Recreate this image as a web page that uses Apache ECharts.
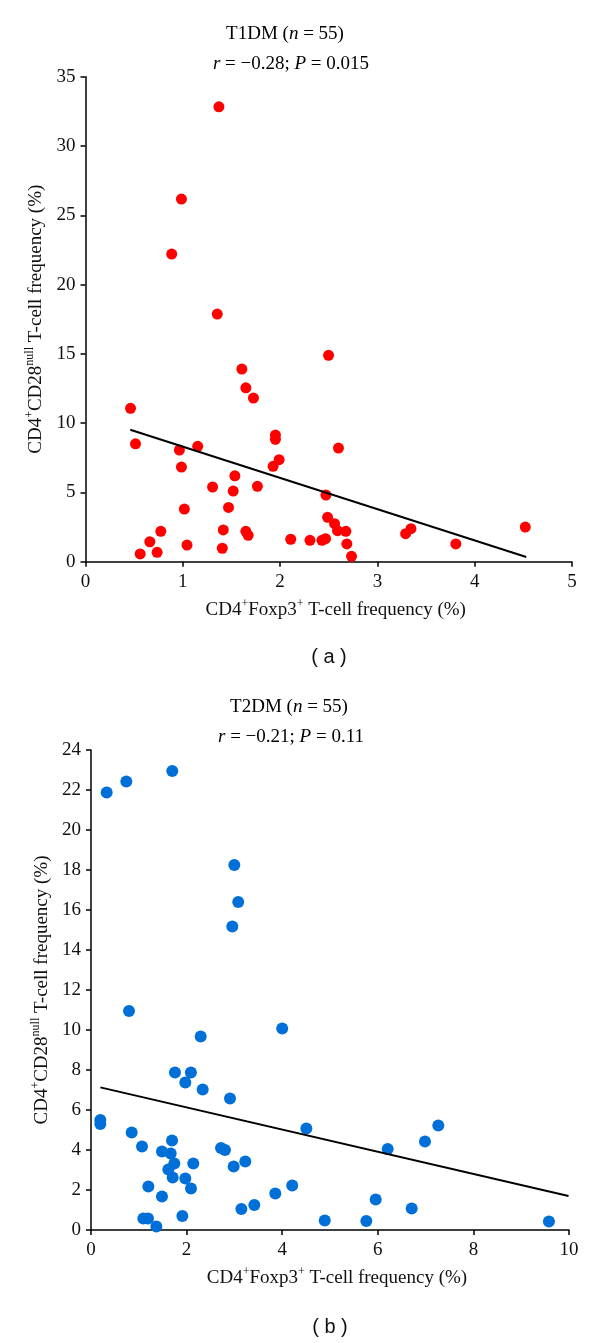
<!DOCTYPE html>
<html>
<head>
<meta charset="utf-8">
<script src="https://cdn.jsdelivr.net/npm/echarts@6/dist/echarts.min.js"></script>
<style>
html,body{margin:0;padding:0;background:#fff;}
#c{width:600px;height:1343px;}
</style>
</head>
<body>
<div id="c"></div>
<script>
// ---- Panel (a): T1DM ----
const t1dmX = [1.371,0.986,0.886,1.354,2.498,1.607,1.648,1.726,0.463,1.952,1.952,0.514,1.153,0.965,2.60,1.99,1.928,0.986,1.535,1.306,1.767,1.518,2.471,1.470,1.016,2.488,2.56,2.59,2.676,2.686,2.734,2.307,2.43,2.467,3.29,3.345,3.806,4.52,0.774,0.661,0.736,0.562,1.043,1.416,1.406,1.648,1.672,2.109];
const t1dmY = [32.83,26.17,22.2,17.87,14.89,13.9,12.55,11.81,11.07,9.14,8.83,8.51,8.33,8.06,8.2,7.36,6.88,6.83,6.2,5.39,5.44,5.1,4.81,3.92,3.80,3.2,2.74,2.24,2.19,1.28,0.39,1.54,1.54,1.66,2.02,2.38,1.28,2.5,2.19,1.44,0.68,0.56,1.2,2.29,0.97,2.19,1.9,1.62];
const t1dmTrendX = [0.46, 4.53];
const t1dmTrendY = [9.52, 0.34];

// ---- Panel (b): T2DM ----
const t2dmX = [0.328,0.739,1.70,2.998,3.08,2.956,0.795,4.0,2.295,1.757,2.09,1.973,2.336,2.908,4.505,0.195,0.195,0.851,1.067,1.695,1.485,1.667,2.72,2.803,1.743,1.618,2.14,3.228,2.985,1.709,1.973,2.092,1.2,1.485,4.21,3.856,3.417,3.146,1.911,1.095,1.192,1.367,4.89,7.266,6.987,6.207,5.956,6.709,5.76,9.58];
const t2dmY = [21.88,22.42,22.95,18.25,16.4,15.17,10.95,10.07,9.67,7.88,7.88,7.38,7.02,6.57,5.08,5.5,5.3,4.87,4.18,4.47,3.93,3.83,4.1,4.0,3.33,3.03,3.33,3.43,3.17,2.63,2.58,2.07,2.17,1.67,2.22,1.82,1.25,1.05,0.7,0.57,0.57,0.17,0.48,5.22,4.42,4.05,1.52,1.07,0.45,0.42];
const t2dmTrendX = [0.195, 9.99];
const t2dmTrendY = [7.13, 1.70];

// axis ranges / ticks
const xA = {min:0, max:5, interval:1};
const yA = {min:0, max:35, interval:5};
const xB = {min:0, max:10, interval:2};
const yB = {min:0, max:24, interval:2};

const titles = ['T1DM', 'T2DM'];
const stats = [['−0.28','0.015'], ['−0.21','0.11']];
const panelLabels = ['( a )', '( b )'];

const SERIF = '"Liberation Serif", "DejaVu Serif", serif';
const SANS = '"Liberation Sans", Arial, sans-serif';

function zip(a,b){ return a.map((v,i)=>[v,b[i]]); }

const baseRich = {
  t:{fontFamily:SERIF, fontSize:19, color:'#111', lineHeight:24},
  i:{fontFamily:SERIF, fontSize:19, fontStyle:'italic', color:'#111', lineHeight:24},
  sup:{fontFamily:SERIF, fontSize:12, color:'#111', verticalAlign:'top', lineHeight:24, padding:[0,0,8,0]}
};

function xAxisCfg(r, gridIndex){
  return {
    type:'value', gridIndex, min:r.min, max:r.max, interval:r.interval,
    splitLine:{show:false},
    axisLine:{lineStyle:{color:'#000', width:1.5}},
    axisTick:{show:true, length:5, inside:false, lineStyle:{color:'#000', width:1.5}},
    axisLabel:{color:'#111', fontFamily:SERIF, fontSize:19, margin:11},
    name:'{t|CD4}{sup|+}{t|Foxp3}{sup|+}{t| T-cell frequency (%)}',
    nameLocation:'middle', nameGap:36,
    nameTextStyle:{rich:baseRich, padding:[0,0,0,14]}
  };
}
function yAxisCfg(r, gridIndex, gap){
  return {
    type:'value', gridIndex, min:r.min, max:r.max, interval:r.interval,
    splitLine:{show:false},
    axisLine:{lineStyle:{color:'#000', width:1.5}},
    axisTick:{show:true, length:5, inside:false, lineStyle:{color:'#000', width:1.5}},
    axisLabel:{color:'#111', fontFamily:SERIF, fontSize:19, margin:10},
    name:'{t|CD4}{sup|+}{t|CD28}{sup|null}{t| T-cell frequency (%)}',
    nameLocation:'middle', nameRotate:90, nameGap:gap,
    nameTextStyle:{rich:baseRich}
  };
}

function titleText(x, y, name){
  return {type:'text', x, y, style:{
    text:'{t|'+name+' (}{i|n}{t| = 55)}', rich:baseRich,
    align:'center', verticalAlign:'middle', textAlign:'center', textVerticalAlign:'middle'
  }};
}
function statText(x, y, s){
  return {type:'text', x, y, style:{
    text:'{i|r}{t| = '+s[0]+'; }{i|P}{t| = '+s[1]+'}', rich:baseRich,
    align:'center', verticalAlign:'middle', textAlign:'center', textVerticalAlign:'middle'
  }};
}
function panelText(x, y, s){
  return {type:'text', x, y, style:{
    text:s, font:'20px '+SANS, fill:'#111',
    align:'center', verticalAlign:'middle', textAlign:'center', textVerticalAlign:'middle'
  }};
}

const option = {
  animation:false,
  backgroundColor:'#fff',
  grid:[
    {left:85.5, top:76.7, width:486.5, height:485, containLabel:false},
    {left:91, top:750, width:478, height:480, containLabel:false}
  ],
  xAxis:[xAxisCfg(xA,0), xAxisCfg(xB,1)],
  yAxis:[yAxisCfg(yA,0,37), yAxisCfg(yB,1,37)],
  series:[
    {type:'scatter', xAxisIndex:0, yAxisIndex:0, data:zip(t1dmX,t1dmY), symbolSize:11,
     itemStyle:{color:'#ff0000', opacity:1}, z:2},
    {type:'line', xAxisIndex:0, yAxisIndex:0, data:zip(t1dmTrendX,t1dmTrendY), showSymbol:false, symbol:'none',
     lineStyle:{color:'#000', width:2}, z:3},
    {type:'scatter', xAxisIndex:1, yAxisIndex:1, data:zip(t2dmX,t2dmY), symbolSize:12,
     itemStyle:{color:'#0070d8', opacity:1}, z:2},
    {type:'line', xAxisIndex:1, yAxisIndex:1, data:zip(t2dmTrendX,t2dmTrendY), showSymbol:false, symbol:'none',
     lineStyle:{color:'#000', width:2}, z:3}
  ],
  graphic:[
    titleText(285, 34, titles[0]),
    statText(291, 64, stats[0]),
    panelText(329, 657, panelLabels[0]),
    titleText(289, 707, titles[1]),
    statText(291, 737, stats[1]),
    panelText(330, 1327, panelLabels[1])
  ]
};

const chart = echarts.init(document.getElementById('c'), null, {renderer:'canvas'});
chart.setOption(option);
</script>
</body>
</html>
